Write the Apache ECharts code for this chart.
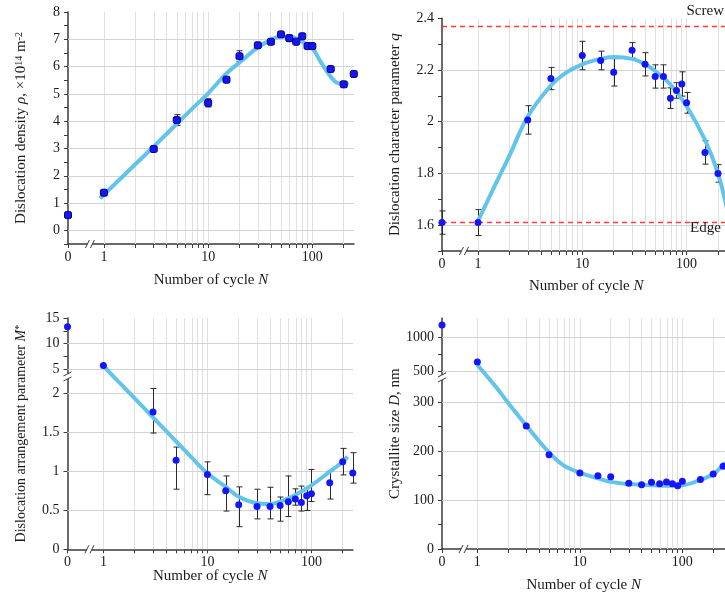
<!DOCTYPE html>
<html><head><meta charset="utf-8">
<script src="https://cdn.jsdelivr.net/npm/echarts@6/dist/echarts.min.js"></script>
<style>html,body{margin:0;padding:0;background:#fff}#c{width:725px;height:599px}</style>
</head><body><div id="c"></div>
<script>
// ---------------- data ----------------
const cyclesAll = [0,1,3,5,10,15,20,30,40,50,60,70,80,90,100,150,200,250];

const rhoValues = [0.56,1.38,2.98,4.04,4.67,5.52,6.38,6.78,6.91,7.18,7.04,6.91,7.11,6.75,6.75,5.91,5.35,5.73];
const rhoErrors = [0.07,0.06,0.07,0.2,0.15,0.07,0.2,0.06,0.1,0.08,0.12,0.05,0.06,0.04,0.04,0.05,0.1,0.05];
const rhoFitCycles = [0.915,1,2,3,5,7,10,15,20,30,40,50,60,70,80,90,100,120,150,170,200,222];
const rhoFitValues = [1.17,1.31,2.42,3.07,3.90,4.45,5.02,5.75,6.15,6.70,6.98,7.10,7.09,7.03,6.91,6.81,6.69,6.18,5.63,5.42,5.37,5.42];

const qCycles = [0,1,3,5,10,15,20,30,40,50,60,70,80,90,100,150,200];
const qValues = [1.61,1.61,2.007,2.167,2.256,2.237,2.191,2.276,2.222,2.175,2.175,2.091,2.121,2.146,2.073,1.881,1.80];
const qErrors = [0.045,0.05,0.055,0.043,0.055,0.036,0.053,0.03,0.045,0.045,0.045,0.04,0.03,0.047,0.04,0.045,0.034];
const qFitCycles = [1,1.5,2,3,5,7,10,15,20,30,40,50,70,100,150,200,245];
const qFitValues = [1.616,1.765,1.868,2.02,2.14,2.19,2.222,2.243,2.25,2.243,2.222,2.196,2.144,2.06,1.93,1.80,1.66];
const qScrew = 2.37;
const qEdge = 1.61;

const mValues = [13.3,5.7,1.76,1.14,0.96,0.75,0.57,0.55,0.55,0.56,0.61,0.645,0.6,0.687,0.713,0.854,1.123,0.978];
const mErrLow  = [0,0,0.27,0.37,0.26,0.26,0.28,0.16,0.16,0.20,0.19,0.08,0.11,0.19,0.10,0.21,0.17,0.13];
const mErrHigh = [0,0,0.30,0.17,0.16,0.19,0.23,0.22,0.245,0.11,0.33,0.13,0.21,0.10,0.31,0.15,0.17,0.26];
const mFitCycles = [1,1.3,1.5,2,3,5,7,10,15,20,30,40,50,70,100,150,200,223];
const mFitValues = [5.7,2.19,2.106,1.933,1.69,1.384,1.181,0.974,0.80,0.674,0.59,0.58,0.61,0.696,0.82,0.995,1.123,1.187];

const dValues = [1190,635,251,192.5,155,149.6,147.6,134,131,136,133,136.7,133,129,138,142,153,169];
const dFitCycles = [1,1.5,2,3,5,7,10,15,20,30,50,70,100,150,200,262];
const dFitValues = [590,332,298,252,197,170,155.7,144,137,132.6,130,129,130,141,153,176];

// ticks
const xMajorCycles = [0,1,10,100];
const xMinorCycles = [2,3,4,5,6,7,8,9,20,30,40,50,60,70,80,90,200];
const xGridCycles = [1,2,3,4,5,6,7,8,9,10,20,30,40,50,60,70,80,90,100,200];

const rhoTickValues = [0,1,2,3,4,5,6,7,8];
const rhoMinorTicks = [-0.5,0.5,1.5,2.5,3.5,4.5,5.5,6.5,7.5];
const rhoGridLines = [0,1,2,3,4,5,6,7];
const qTickValues = [1.6,1.8,2,2.2,2.4];
const qMinorTicks = [1.5,1.7,1.9,2.1,2.3];
const qGridLines = [1.6,1.8,2,2.2];
const mTickValues = [0,0.5,1,1.5,2,5,10,15];
const mMinorTicks = [7.5,12.5];
const mGridLines = [0.5,1,1.5,2,5,10];
const dTickValues = [0,100,200,300,500,1000];
const dMinorTicks = [50,150,250,750];
const dGridLines = [100,200,300,500,1000];

// ---------------- axis transforms (broken axes) ----------------
const X0 = -0.345;                       // position of N = 0 before the break
const xPos = n => n === 0 ? X0 : Math.log10(n);
const idY = v => v;
function mPos(v){ const B=2.25,P5=2.308,k=0.0656; if(v<=B) return v; if(v>=5) return P5+(v-5)*k; return B+(v-B)/(5-B)*(P5-B); }
function dPos(v){ const B=350,P5=363.3,k=0.136; if(v<=B) return v; if(v>=500) return P5+(v-500)*k; return B+(v-B)/150*(P5-B); }

const F = "'Liberation Serif','Times New Roman',serif";
const TXT = '#1a1a1a';
const AX = '#3a3a3a';
const GRID_V = '#e0e0e0';
const GRID_H = '#d3d3d3';
const DOT = '#1414ff';
const FIT = '#62c4ea';

function richOf(fs){
  return {
    t:{fontFamily:F,fontSize:fs,color:TXT},
    i:{fontFamily:F,fontSize:fs,color:TXT,fontStyle:'italic'},
    s:{fontFamily:F,fontSize:10,color:TXT,verticalAlign:'top'}
  };
}

const panels = [
  {grid:{left:68,top:12,width:286,height:232}, xMax:2.4, yMin:-0.5, yMax:8, tf:idY,
   ticks:rhoTickValues, minor:rhoMinorTicks, gl:rhoGridLines, xGap:29, yFs:15,
   yName:'{t|Dislocation density }{i|ρ}{t|, ×10}{s|14}{t| m}{s|-2}'},
  {grid:{left:442,top:18.3,width:288.4,height:232.7}, xMax:2.42, yMin:1.5, yMax:2.4, tf:idY,
   ticks:qTickValues, minor:qMinorTicks, gl:qGridLines, xGap:28, yFs:15,
   yName:'{t|Dislocation character parameter }{i|q}'},
  {grid:{left:67.5,top:318,width:285.5,height:231.3}, xMax:2.4, yMin:0, yMax:mPos(15), tf:mPos,
   ticks:mTickValues, minor:mMinorTicks, gl:mGridLines, xGap:19, yFs:14,
   yName:'{t|Dislocation arrangement parameter }{i|M}{s|*}'},
  {grid:{left:442,top:318.3,width:283.4,height:230.7}, xMax:2.42, yMin:0, yMax:dPos(1290), tf:dPos,
   ticks:dTickValues, minor:dMinorTicks, gl:dGridLines, xGap:29, yFs:15,
   yName:'{t|Crystallite size }{i|D}{t|, nm}'}
];

function nearestLabel(vals, tf){
  return function(val){
    let b=0; for(let k=1;k<vals.length;k++) if(Math.abs(tf(vals[k])-val)<Math.abs(tf(vals[b])-val)) b=k;
    return String(vals[b]);
  };
}

const grids=[], xAxes=[], yAxes=[], series=[];
panels.forEach((p,i)=>{
  grids.push(Object.assign({outerBoundsMode:'none'}, p.grid));
  xAxes.push({
    type:'value', gridIndex:i, min:X0, max:p.xMax,
    name:'{t|Number of cycle }{i|N}', nameLocation:'middle', nameGap:p.xGap, nameMoveOverlap:false,
    nameTextStyle:{rich:richOf(15)},
    axisLine:{show:true,onZero:false,lineStyle:{color:AX,width:1.5}},
    axisTick:{show:true,length:4,lineStyle:{color:AX,width:1},customValues:xMajorCycles.concat(xMinorCycles).map(xPos)},
    axisLabel:{customValues:xMajorCycles.map(xPos),formatter:nearestLabel(xMajorCycles,xPos),
      fontFamily:F,fontSize:14,color:TXT,margin:6},
    splitLine:{show:false}
  });
  yAxes.push({
    type:'value', gridIndex:i, min:p.yMin, max:p.yMax,
    name:p.yName, nameLocation:'middle', nameGap:39, nameMoveOverlap:false,
    nameTextStyle:{rich:richOf(p.yFs)},
    axisLine:{show:true,onZero:false,lineStyle:{color:AX,width:1.5}},
    axisTick:{show:true,length:4,lineStyle:{color:AX,width:1},customValues:p.ticks.concat(p.minor).map(p.tf)},
    axisLabel:{customValues:p.ticks.map(p.tf),formatter:nearestLabel(p.ticks,p.tf),
      fontFamily:F,fontSize:14,color:TXT,margin:8},
    splitLine:{show:false}
  });
  // grid lines
  series.push({
    type:'line', xAxisIndex:i, yAxisIndex:i, data:[], z:1, silent:true,
    markLine:{z:1, silent:true, symbol:'none', animation:false, label:{show:false},
      emphasis:{disabled:true},
      lineStyle:{color:GRID_V,width:1,type:'solid'},
      data: xGridCycles.map(n=>({xAxis:xPos(n)}))
        .concat(p.gl.map(v=>({yAxis:p.tf(v), lineStyle:{color:GRID_H,width:1,type:'solid'}})))}
  });
});

// red reference lines in panel 2
series.push({
  type:'line', xAxisIndex:1, yAxisIndex:1, data:[], z:2, silent:true,
  markLine:{z:2, silent:true, symbol:'none', animation:false, label:{show:false}, emphasis:{disabled:true},
    lineStyle:{color:'#ff3b3b',width:1.3,type:[5,4]},
    data:[{yAxis:qScrew},{yAxis:qEdge}]}
});

function errSeries(i, cyc, lo, hi, tf){
  return {
    type:'custom', xAxisIndex:i, yAxisIndex:i, z:3, silent:true,
    data: cyc.map((n,k)=>[xPos(n), tf(lo[k]), tf(hi[k])]),
    renderItem:function(params, api){
      const a = api.coord([api.value(0), api.value(1)]);
      const b = api.coord([api.value(0), api.value(2)]);
      const x = Math.round(a[0]) + 0.5;
      const w = 3;
      const st = () => ({stroke:'#2a2a2a', lineWidth:1});
      return {type:'group', children:[
        {type:'line', shape:{x1:x,y1:a[1],x2:x,y2:b[1]}, style:st()},
        {type:'line', shape:{x1:x-w,y1:a[1],x2:x+w,y2:a[1]}, style:st()},
        {type:'line', shape:{x1:x-w,y1:b[1],x2:x+w,y2:b[1]}, style:st()}
      ]};
    }
  };
}
function fitSeries(i, cyc, vals, tf){
  return {type:'line', xAxisIndex:i, yAxisIndex:i, z:4, silent:true, smooth:0.35, showSymbol:false,
    lineStyle:{color:FIT,width:4}, data: cyc.map((n,k)=>[xPos(n), tf(vals[k])])};
}
function dotSeries(i, cyc, vals, tf, sym, size, border){
  return {type:'scatter', xAxisIndex:i, yAxisIndex:i, z:5, silent:true, clip:false,
    symbol:sym, symbolSize:size,
    itemStyle:{color:DOT, borderColor:border||DOT, borderWidth:border?1:0, opacity:1},
    data: cyc.map((n,k)=>[xPos(n), tf(vals[k])])};
}

series.push(errSeries(0, cyclesAll, rhoValues.map((v,k)=>v-rhoErrors[k]), rhoValues.map((v,k)=>v+rhoErrors[k]), idY));
series.push(fitSeries(0, rhoFitCycles, rhoFitValues, idY));
series.push(dotSeries(0, cyclesAll, rhoValues, idY, 'roundRect', 7, '#00007a'));

series.push(errSeries(1, qCycles, qValues.map((v,k)=>v-qErrors[k]), qValues.map((v,k)=>v+qErrors[k]), idY));
series.push(fitSeries(1, qFitCycles, qFitValues, idY));
series.push(dotSeries(1, qCycles, qValues, idY, 'circle', 7));

series.push(errSeries(2, cyclesAll.slice(2), mValues.slice(2).map((v,k)=>v-mErrLow[k+2]), mValues.slice(2).map((v,k)=>v+mErrHigh[k+2]), mPos));
series.push(fitSeries(2, mFitCycles, mFitValues, mPos));
series.push(dotSeries(2, cyclesAll, mValues, mPos, 'circle', 7));

series.push(fitSeries(3, dFitCycles, dFitValues, dPos));
series.push(dotSeries(3, cyclesAll, dValues, dPos, 'circle', 7));

const chart = echarts.init(document.getElementById('c'), null, {renderer:'canvas'});
chart.setOption({
  animation:false,
  backgroundColor:'#fff',
  textStyle:{fontFamily:F},
  grid:grids, xAxis:xAxes, yAxis:yAxes, series:series
});

// break marks, drawn where the axes are broken
const g = [];
const LS = {stroke:AX, lineWidth:1};
panels.forEach((p,i)=>{
  const xb = X0*0.39;   // between 0 and 1
  const pt = chart.convertToPixel({gridIndex:i}, [xb, p.yMin]);
  g.push({type:'rect', z:100, shape:{x:pt[0]-2.5,y:pt[1]-2,width:5,height:4}, style:{fill:'#fff'}});
  [-2.5,2.5].forEach(o=>g.push({type:'line', z:101, shape:{x1:pt[0]+o-2,y1:pt[1]+4,x2:pt[0]+o+2,y2:pt[1]-4}, style:LS}));
});
[[2, mPos(2.215)],[3, dPos(351.5)]].forEach(([i,yv])=>{
  const pt = chart.convertToPixel({gridIndex:i}, [X0, yv]);
  g.push({type:'rect', z:100, shape:{x:pt[0]-2,y:pt[1]-2.5,width:4,height:5}, style:{fill:'#fff'}});
  [-2.5,2.5].forEach(o=>g.push({type:'line', z:101, shape:{x1:pt[0]-4,y1:pt[1]+o+2,x2:pt[0]+4,y2:pt[1]+o-2}, style:LS}));
});
g.push({type:'text', z:100, right:1, top:4, style:{text:'Screw', font:"15px "+F, fill:TXT}});
g.push({type:'text', z:100, left:690, top:221, style:{text:'Edge', font:"15px "+F, fill:TXT}});
chart.setOption({graphic:g});
</script>
</body></html>
